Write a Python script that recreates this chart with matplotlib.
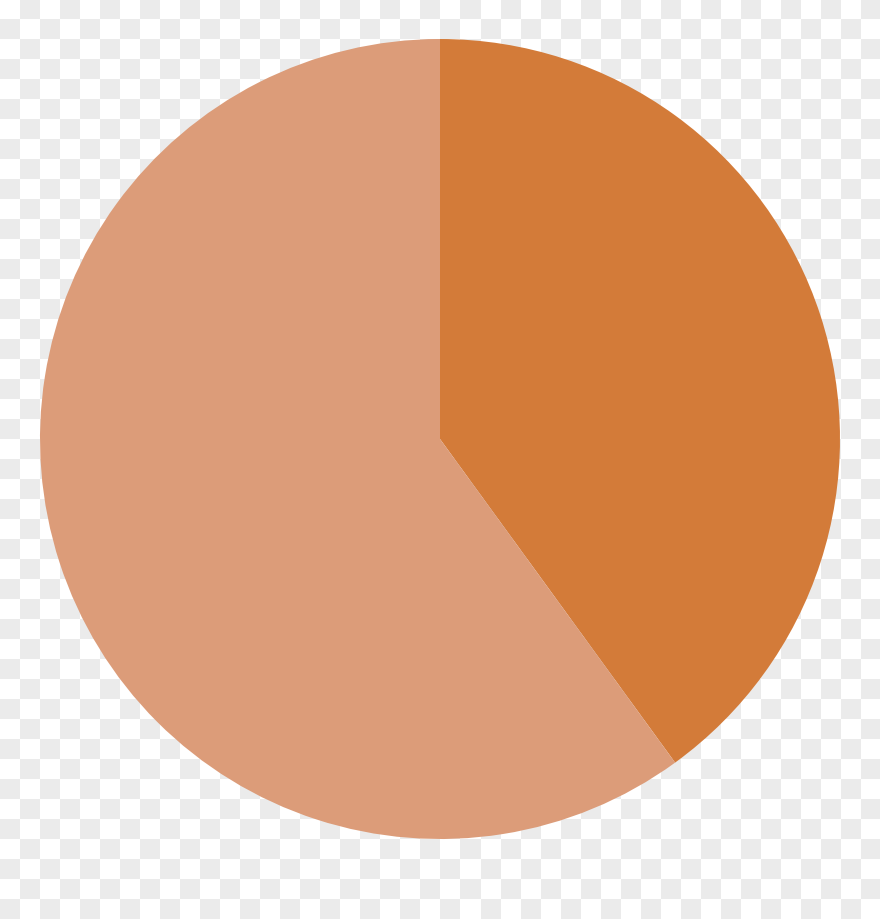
import numpy as np
import matplotlib.pyplot as plt
from matplotlib.colors import ListedColormap

labels = ['A', 'B']
values = [40, 60]
colors = ['#d37b39', '#dc9c79']

fig = plt.figure(figsize=(8.8, 9.2), dpi=100)

# checkerboard backdrop
bg = fig.add_axes([0, 0, 1, 1])
nx, ny = 44, 46
checker = (np.add.outer(np.arange(ny), np.arange(nx)) % 2).astype(float)
bg.imshow(checker, cmap=ListedColormap(['#ffffff', '#ebebeb']),
          extent=[0, nx, ny, 0], interpolation='nearest', aspect='auto')
bg.set_xlim(0, nx)
bg.set_ylim(ny, 0)
bg.axis('off')

ax = fig.add_axes([40 / 880, 80 / 920, 800 / 880, 800 / 920])
ax.pie(values, colors=colors, startangle=90, counterclock=False,
       radius=1, wedgeprops={'linewidth': 0})
ax.set_xlim(-1, 1)
ax.set_ylim(-1, 1)
ax.set_aspect('equal')
ax.axis('off')

fig.savefig('out.png', dpi=100)
